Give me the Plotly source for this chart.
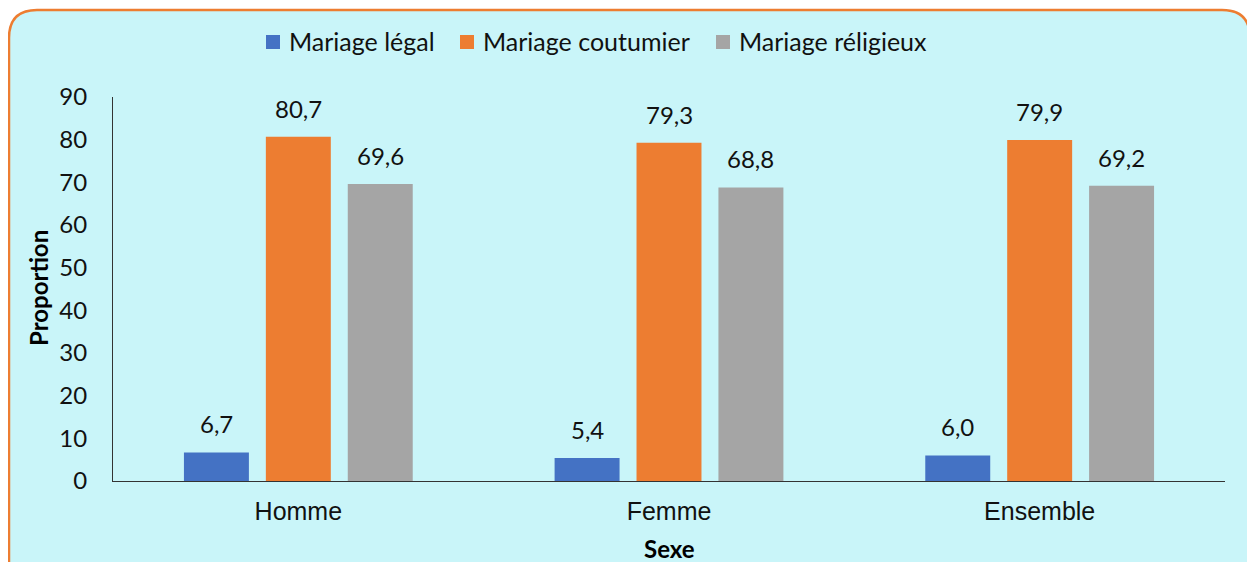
import plotly.graph_objects as go

categories = ["Homme", "Femme", "Ensemble"]
series_names = ["Mariage légal", "Mariage coutumier", "Mariage réligieux"]
legal = [6.7, 5.4, 6.0]
coutumier = [80.7, 79.3, 79.9]
religieux = [69.6, 68.8, 69.2]
y_ticks = [0, 10, 20, 30, 40, 50, 60, 70, 80, 90]

colors = ["#4472C4", "#ED7D31", "#A5A5A5"]
values = [legal, coutumier, religieux]

# the page body has an 8px margin: the figure starts at (8, 8) in the window
OFF = 8
W, H = 1255 - OFF, 562 - OFF
# plot area in window pixels: x 113..1225, y 97..481
ML, MR, MT, MB = 113 - OFF, 1255 - 1225, 97 - OFF, 562 - 481
PW, PH = W - ML - MR, H - MT - MB

def px_x(p):  # window pixel -> paper
    return (p - OFF - ML) / PW

def px_y(p):
    return (H - MB - (p - OFF)) / PH

bargap = 0.337
bargroupgap = 0.207
slot = (1 - bargap) / 3
xs = list(range(len(categories)))

NUMFONT = "Lato, Open Sans, sans-serif"

fig = go.Figure()
for k, (name, vals, col) in enumerate(zip(series_names, values, colors)):
    fig.add_trace(go.Bar(x=xs, y=vals, name=name, marker_color=col,
                         marker_line_width=0, showlegend=False))

annotations = []
for k, vals in enumerate(values):
    off = (k - 1) * slot
    for i, v in enumerate(vals):
        annotations.append(dict(
            x=xs[i] + off, y=v, xref="x", yref="y",
            text=f"{v:.1f}".replace(".", ","), showarrow=False,
            yanchor="bottom", yshift=12,
            font=dict(family=NUMFONT, size=24, color="#111111")))

annotations.append(dict(x=px_x(38), y=px_y(288), xref="paper", yref="paper",
                        xanchor="center", yanchor="middle",
                        text="<b>Proportion</b>", textangle=-90, showarrow=False,
                        font=dict(family=NUMFONT, size=24, color="#000000")))
annotations.append(dict(x=px_x(669), y=px_y(548), xref="paper", yref="paper",
                        xanchor="center", yanchor="middle",
                        text="<b>Sexe</b>", showarrow=False,
                        font=dict(family=NUMFONT, size=24, color="#000000")))

# rounded background box
x0, x1 = px_x(9), px_x(1250)
y0, y1 = px_y(620), px_y(10)
rx, ry = 28 / PW, 28 / PH
path = (f"M {x0+rx},{y1} L {x1-rx},{y1} Q {x1},{y1} {x1},{y1-ry} "
        f"L {x1},{y0+ry} Q {x1},{y0} {x1-rx},{y0} L {x0+rx},{y0} "
        f"Q {x0},{y0} {x0},{y0+ry} L {x0},{y1-ry} Q {x0},{y1} {x0+rx},{y1} Z")
shapes = [dict(type="path", path=path, xref="paper", yref="paper",
               fillcolor="#C9F5F9", line=dict(color="#ED7D31", width=2.5),
               layer="below")]

# legend drawn as squares + labels
legend_marker_left = [266, 460, 716]
legend_y = 42
for name, col, lx in zip(series_names, colors, legend_marker_left):
    shapes.append(dict(type="rect", xref="paper", yref="paper",
                       x0=px_x(lx), x1=px_x(lx + 14),
                       y0=px_y(legend_y + 7), y1=px_y(legend_y - 7),
                       fillcolor=col, line=dict(width=0)))
    annotations.append(dict(x=px_x(lx + 21), y=px_y(legend_y - 1), xref="paper", yref="paper",
                            xanchor="left", yanchor="middle", text=name, showarrow=False,
                            font=dict(family=NUMFONT, size=25, color="#111111")))

fig.update_layout(
    width=W, height=H,
    margin=dict(l=ML, r=MR, t=MT, b=MB, autoexpand=False),
    paper_bgcolor="white",
    plot_bgcolor="rgba(0,0,0,0)",
    barmode="group", bargap=bargap, bargroupgap=bargroupgap,
    showlegend=False,
    shapes=shapes,
    annotations=annotations,
    xaxis=dict(tickmode="array", tickvals=xs, ticktext=categories,
               range=[-0.5, len(categories) - 0.5],
               showline=True, linecolor="#333333", linewidth=1.2,
               ticks="", showgrid=False, zeroline=False,
               ticklabelstandoff=8,
               tickfont=dict(family="Liberation Sans, Arial, sans-serif", size=25, color="#111111")),
    yaxis=dict(range=[0, 90], tickmode="array", tickvals=y_ticks,
               showline=True, linecolor="#333333", linewidth=1.2,
               ticks="", showgrid=False, zeroline=False,
               ticklabelstandoff=20,
               tickfont=dict(family=NUMFONT, size=24, color="#111111")),
)

fig.write_html("out.html")
